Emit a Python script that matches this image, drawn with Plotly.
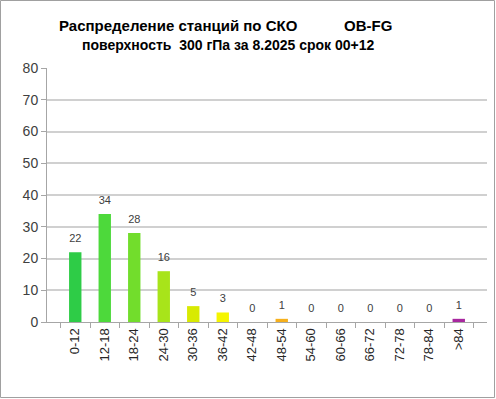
import plotly.graph_objects as go

categories = ["0-12", "12-18", "18-24", "24-30", "30-36", "36-42", "42-48", "48-54",
              "54-60", "60-66", "66-72", "72-78", "78-84", ">84"]
counts = [22, 34, 28, 16, 5, 3, 0, 1, 0, 0, 0, 0, 0, 1]
bar_colors = ["#2ecc47", "#4dd93b", "#72dd2c", "#a8e41a", "#d8ea02", "#f5f500", "#f5f500",
              "#f6b01c", "#f6b01c", "#f6b01c", "#f6b01c", "#f6b01c", "#f6b01c", "#a8279f"]
y_ticks = [0, 10, 20, 30, 40, 50, 60, 70, 80]
title_line1_left = "Распределение станций по СКО"
title_line1_right = "OB-FG"
title_line2 = "поверхность  300 гПа за 8.2025 срок 00+12"

L, R, T, B = 47, 9, 68, 77
W, H = 496, 399
pw, ph = W - L - R, H - T - B

def px(x):
    return (x - L) / pw

def py(y):
    return 1 - (y - T) / ph

fig = go.Figure()
fig.add_trace(go.Bar(x=categories, y=counts, marker=dict(color=bar_colors, line=dict(width=0)),
                     hoverinfo="skip"))
fig.add_trace(go.Scatter(x=categories, y=counts, mode="markers+text", text=[str(c) for c in counts],
                         textposition="top center", marker=dict(size=10, opacity=0),
                         textfont=dict(family="Liberation Sans, Arial", size=11, color="#404040"),
                         hoverinfo="skip"))

fig.update_layout(
    width=W, height=H,
    margin=dict(l=L, r=R, t=T, b=B),
    paper_bgcolor="white", plot_bgcolor="white",
    showlegend=False, bargap=0.58,
    font=dict(family="Liberation Sans, Arial", color="#404040"),
)
fig.update_xaxes(type="category", showgrid=False, showline=True, linecolor="#a6a6a6", linewidth=1,
                 ticks="outside", tickson="boundaries", ticklen=5, tickcolor="#a6a6a6",
                 tickangle=-90, tickfont=dict(size=13, color="#262626"))
fig.update_yaxes(range=[0, 80], tickvals=y_ticks, showgrid=True, gridcolor="#d0d0d0", gridwidth=1.5,
                 showline=True, linecolor="#a6a6a6", linewidth=1, ticks="outside", ticklen=5,
                 tickcolor="#a6a6a6", tickfont=dict(size=14, color="#404040"), zeroline=False)

tf1 = dict(family="Liberation Sans, Arial", size=15, color="#000000")
tf2 = dict(family="Liberation Sans, Arial", size=14, color="#000000")
fig.add_annotation(text="<b>" + title_line1_left + "</b>", xref="paper", yref="paper",
                   x=px(178), y=py(25), showarrow=False, font=tf1, xanchor="center", yanchor="middle")
fig.add_annotation(text="<b>" + title_line1_right + "</b>", xref="paper", yref="paper",
                   x=px(368), y=py(25), showarrow=False, font=tf1, xanchor="center", yanchor="middle")
fig.add_annotation(text="<b>" + title_line2 + "</b>", xref="paper", yref="paper",
                   x=px(228), y=py(45), showarrow=False, font=tf2, xanchor="center", yanchor="middle")

fig.add_shape(type="rect", xref="paper", yref="paper", x0=px(0.5), x1=px(494.5), y0=py(397.5), y1=py(0.5),
              line=dict(color="#a0a0a0", width=1), layer="above")

fig.write_html("out.html", config={"displayModeBar": False},
               post_script="document.body.style.margin='0px';document.body.style.padding='0px';")
